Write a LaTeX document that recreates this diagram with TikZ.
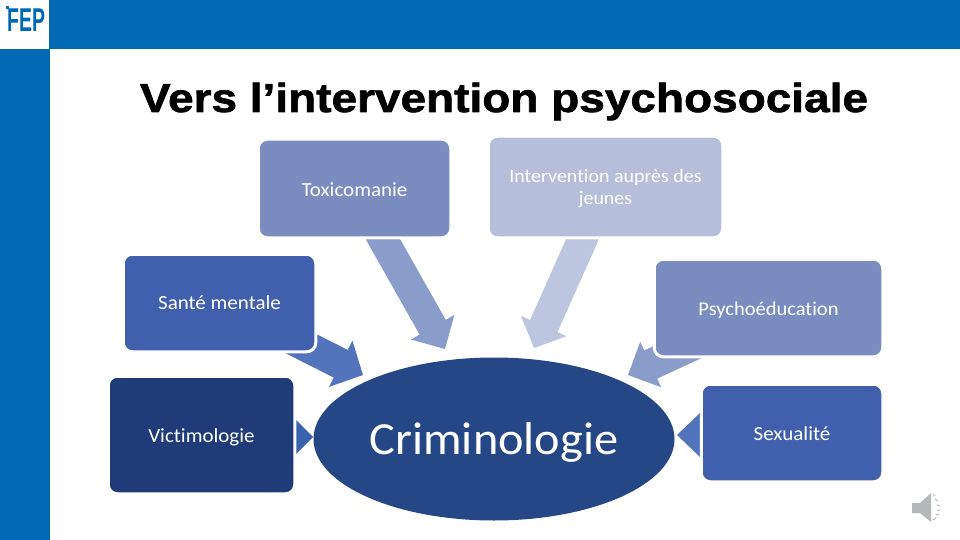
\documentclass[tikz,border=0pt]{standalone}
\usepackage{fontspec}
\usetikzlibrary{calc,shapes.geometric}
\setmainfont{Carlito}[Ligatures=NoCommon,FakeStretch=1.05]
\newfontfamily\titlefont{Liberation Sans Bold}[FakeBold=1.6,FakeStretch=1.135]
\newfontfamily\logofont{Liberation Sans Bold}
\definecolor{band}{HTML}{0069B4}
\definecolor{boxA}{HTML}{7A8CC0}
\definecolor{boxB}{HTML}{B5BFD9}
\definecolor{boxC}{HTML}{4060AD}
\definecolor{boxD}{HTML}{203C78}
\definecolor{hub}{HTML}{264786}
\definecolor{arrA}{HTML}{8A9CCA}
\definecolor{arrB}{HTML}{BCC6DE}
\definecolor{arrC}{HTML}{5373BD}
\definecolor{arrD}{HTML}{3A62AD}
\definecolor{spk}{HTML}{B4B8B8}
\tikzset{
  x=1pt,y=-1pt,
  topic/.style={draw=white,line width=3pt,rounded corners=9pt,text=white,font=\fontsize{20}{22.5}\selectfont,align=center,inner sep=0pt},
}
% lowers text without changing the box the node centres on
\newcommand\lowered[2]{\raisebox{-#1}[\height][\depth]{#2}}
% #1 tail, #2 tip, #3 shaft half width, #4 head half width, #5 head length, #6 colour
\newcommand\blockarrow[6]{%
  \coordinate (hb) at ($(#2)!#5pt!(#1)$);
  \fill[#6] ($(#1)!#3pt!90:(#2)$) -- ($(hb)!#3pt!-90:(#1)$) -- ($(hb)!#4pt!-90:(#1)$) -- (#2)
    -- ($(hb)!#4pt!90:(#1)$) -- ($(hb)!#3pt!90:(#1)$) -- ($(#1)!#3pt!-90:(#2)$) -- cycle;
}
\begin{document}
\begin{tikzpicture}
\useasboundingbox (0,0) rectangle (960,540);
\fill[white] (0,0) rectangle (960,540);
\fill[band] (49,0) rectangle (960,49);
\fill[band] (0,49) rectangle (50,540);
\node[text=band,font=\logofont\fontsize{33}{33}\selectfont,anchor=base west,inner sep=0pt,xscale=0.59] (logo) at (7,32) {FEP};
\fill[band] (6,6) rectangle (9,9);
\node[font=\titlefont\fontsize{40.5}{42}\selectfont,anchor=base,inner sep=0pt] (title) at (504,112) {Vers l’intervention psychosociale};

% arrow ends
\coordinate (toxTail) at (372.6,221); \coordinate (toxTip) at (445,349);
\coordinate (intTail) at (590.6,221); \coordinate (intTip) at (534,348);
\coordinate (sanTail) at (274,330); \coordinate (sanTip) at (363,375);
\coordinate (psyTail) at (719,333); \coordinate (psyTip) at (628,375);
\coordinate (vicTail) at (280,437); \coordinate (vicTip) at (313,437);
\coordinate (sexTail) at (720,435); \coordinate (sexTip) at (677,435);

\blockarrow{toxTail}{toxTip}{15}{25}{25}{arrA}
\blockarrow{intTail}{intTip}{15}{25}{24}{arrB}
\blockarrow{sanTail}{sanTip}{15.5}{26}{25}{arrC}
\blockarrow{psyTail}{psyTip}{15.5}{25}{25}{arrA}
\blockarrow{vicTail}{vicTip}{17}{17}{17}{arrD}
\blockarrow{sexTail}{sexTip}{23}{23}{24}{arrC}

\node[topic,fill=boxA,minimum width=192.5pt,minimum height=98.5pt] (tox) at (354.5,188.5) {\lowered{1pt}{Toxicomanie}};
\node[topic,fill=boxB,minimum width=234.5pt,minimum height=101.5pt,font=\fontsize{19}{22}\selectfont] (int) at (605.5,187) {\lowered{2pt}{Intervention auprès des}\\\lowered{2pt}{jeunes}};
\node[topic,fill=boxC,minimum width=192.5pt,minimum height=97.5pt] (san) at (219.5,303) {Santé mentale};
\node[topic,fill=boxA,minimum width=228.5pt,minimum height=97.5pt,font=\fontsize{19.5}{22}\selectfont] (psy) at (768.5,308) {\lowered{2pt}{Psychoéducation}};
\node[topic,fill=boxD,minimum width=186.5pt,minimum height=117.5pt] (vic) at (201.5,435) {\lowered{2pt}{Victimologie}};
\node[topic,fill=boxC,minimum width=181.5pt,minimum height=97.5pt] (sex) at (792,433) {\lowered{1pt}{Sexualité}};

\node[ellipse,fill=hub,inner sep=0pt,minimum width=361pt,minimum height=163pt,text=white,font=\fontsize{46}{50}\selectfont] (crim) at (494,439) {\lowered{3pt}{Criminologie}};

% speaker
\fill[spk] (912,503) -- (920,503) -- (931,493) -- (931,522) -- (920,513) -- (912,513) -- cycle;
\draw[spk,line width=1pt]
  (933,494) -- (935,496)  (935,499) -- (938,501)  (937,505) -- (940,506)
  (937,510) -- (940,510)  (936,515) -- (939,514)  (933,520) -- (936,518);
\end{tikzpicture}
\end{document}
